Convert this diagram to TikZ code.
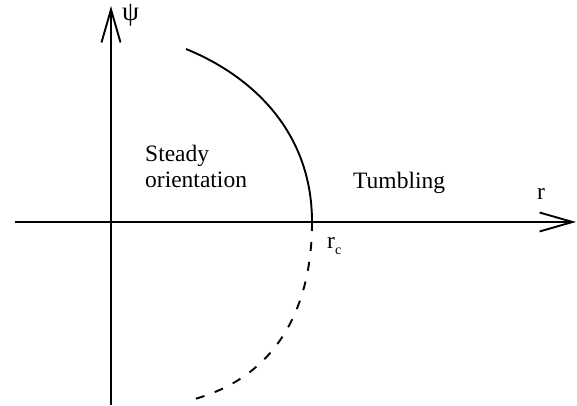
\documentclass[tikz,border=0pt]{standalone}
\usepackage{fontspec}
\setmainfont{Liberation Serif}
\usetikzlibrary{arrows.meta}

\begin{document}
\begin{tikzpicture}[
  x=1pt, y=-1pt,
  font=\fontsize{23.5}{26}\selectfont,
  axis/.style={line width=1.9pt, -{Straight Barb[length=33pt,width=19pt]}},
  branch/.style={line width=1.9pt},
  lbl/.style={inner sep=0pt, anchor=base west}
]
  \useasboundingbox (0,0) rectangle (577,406);
  % axes
  \coordinate (rstart) at (15,222);
  \coordinate (rend) at (576,222);
  \coordinate (psistart) at (111,405);
  \coordinate (psiend) at (111,6);
  \draw[axis] (rstart) -- (rend);
  \draw[axis] (psistart) -- (psiend);

  % critical curve
  \coordinate (top) at (186,49);
  \coordinate (rc) at (312,222);
  \coordinate (bottom) at (187,401);
  \draw[branch] (top) .. controls (250,75) and (312,130) .. (rc);
  \draw[branch, dash pattern=on 9pt off 11pt] (rc) .. controls (312,310) and (275,380) .. (bottom);

  % labels
  \node[lbl, font=\fontsize{27}{27}\selectfont] (psilabel) at (122,21) {ψ};
  \node[lbl] (rlabel) at (537,199) {r};
  \node[lbl] (rclabel) at (327,248) {r\raisebox{-6pt}{\fontsize{14}{14}\selectfont c}};
  \node[lbl, align=left] (steady) at (145,187) {Steady\\orientation};
  \node[lbl] (tumbling) at (353,188) {Tumbling};
\end{tikzpicture}
\end{document}
